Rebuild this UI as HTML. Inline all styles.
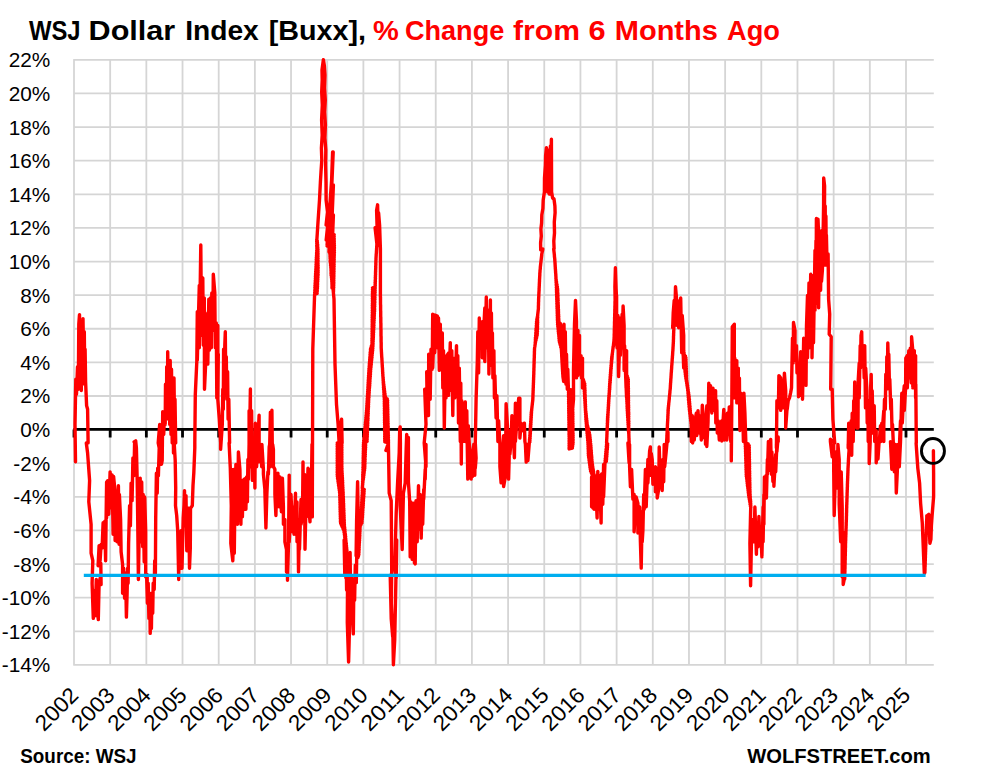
<!DOCTYPE html><html><head><meta charset="utf-8"><style>html,body{margin:0;padding:0;background:#fff}body{width:1006px;height:775px;position:relative;overflow:hidden;font-family:"Liberation Sans",sans-serif}</style></head><body><svg width="1006" height="775" viewBox="0 0 1006 775" style="position:absolute;left:0;top:0">
<rect width="1006" height="775" fill="#fff"/>
<path d="M73.40 59.85H933.80M73.40 93.46H933.80M73.40 127.08H933.80M73.40 160.69H933.80M73.40 194.31H933.80M73.40 227.92H933.80M73.40 261.53H933.80M73.40 295.15H933.80M73.40 328.76H933.80M73.40 362.38H933.80M73.40 395.99H933.80M73.40 429.60H933.80M73.40 463.22H933.80M73.40 496.83H933.80M73.40 530.45H933.80M73.40 564.06H933.80M73.40 597.67H933.80M73.40 631.29H933.80M73.40 664.90H933.80M74.00 59.25V665.50M110.17 59.25V665.50M146.35 59.25V665.50M182.52 59.25V665.50M218.70 59.25V665.50M254.87 59.25V665.50M291.04 59.25V665.50M327.22 59.25V665.50M363.39 59.25V665.50M399.57 59.25V665.50M435.74 59.25V665.50M471.91 59.25V665.50M508.09 59.25V665.50M544.26 59.25V665.50M580.44 59.25V665.50M616.61 59.25V665.50M652.78 59.25V665.50M688.96 59.25V665.50M725.13 59.25V665.50M761.31 59.25V665.50M797.48 59.25V665.50M833.65 59.25V665.50M869.83 59.25V665.50M906.00 59.25V665.50" stroke="#D5D5D5" stroke-width="1.8" fill="none"/>
<path d="M73.40 429.40H933.80M74.00 429.40v8M110.17 429.40v8M146.35 429.40v8M182.52 429.40v8M218.70 429.40v8M254.87 429.40v8M291.04 429.40v8M327.22 429.40v8M363.39 429.40v8M399.57 429.40v8M435.74 429.40v8M471.91 429.40v8M508.09 429.40v8M544.26 429.40v8M580.44 429.40v8M616.61 429.40v8M652.78 429.40v8M688.96 429.40v8M725.13 429.40v8M761.31 429.40v8M797.48 429.40v8M833.65 429.40v8M869.83 429.40v8M906.00 429.40v8" stroke="#000" stroke-width="2.8" fill="none"/>
<path d="M75.5 461.8 L75.0 424.4 L75.8 379.3 L76.5 394.3 L77.5 366.7 L78.3 389.3 L78.8 324.2 L79.5 314.6 L80.3 379.3 L80.8 324.2 L81.3 390.5 L81.8 321.6 L82.5 384.3 L83.0 318.6 L83.8 374.3 L84.3 331.7 L84.8 379.3 L85.1 349.2 L85.6 381.8 L86.6 405.6 L87.6 409.3 L88.1 442.9 L86.3 443.0 L87.6 453.0 L89.6 480.6 L88.8 501.9 L91.1 524.4 L91.1 553.2 L92.8 560.7 L92.1 583.3 L93.3 618.4 L94.3 590.8 L95.1 615.8 L96.3 579.5 L97.1 608.3 L98.3 619.6 L99.1 583.3 L100.1 578.3 L101.1 584.5 L100.8 563.2 L98.1 565.7 L99.1 545.7 L100.1 560.7 L101.1 544.5 L102.1 548.2 L103.1 522.7 L104.1 543.2 L104.8 521.2 L105.6 560.7 L106.1 518.2 L106.6 483.1 L106.6 482.0 L106.6 518.0 L107.6 480.7 L108.8 514.3 L110.1 471.9 L111.4 508.0 L112.1 474.9 L113.1 534.3 L113.6 476.4 L115.1 492.0 L115.1 540.6 L116.6 494.5 L117.1 541.8 L118.4 485.7 L119.1 544.3 L119.4 494.5 L120.6 519.5 L121.1 551.8 L122.6 564.6 L122.6 566.9 L122.6 593.3 L123.6 568.3 L124.6 598.3 L125.6 573.3 L126.4 617.1 L127.1 593.3 L127.6 568.3 L128.1 583.3 L128.6 543.2 L129.6 505.6 L130.4 525.7 L131.1 483.1 L132.1 500.6 L132.9 458.0 L133.9 475.6 L134.6 443.0 L134.1 441.9 L135.7 440.9 L136.4 448.0 L137.2 480.6 L137.7 518.2 L138.4 579.5 L139.2 530.7 L139.7 493.1 L140.2 478.1 L140.2 479.4 L140.2 524.3 L141.4 541.8 L141.7 482.0 L142.7 546.8 L143.2 494.5 L144.2 561.9 L144.7 497.0 L145.7 532.1 L145.7 576.9 L147.2 574.6 L147.2 591.9 L146.7 578.3 L147.4 603.3 L148.2 583.3 L148.9 618.4 L149.7 593.3 L150.2 633.4 L150.9 598.3 L151.4 628.4 L151.9 593.3 L152.7 613.3 L153.2 583.3 L154.2 589.5 L154.7 560.7 L155.4 573.3 L155.7 518.2 L156.4 473.1 L157.2 493.1 L157.7 468.1 L158.4 475.6 L159.2 448.0 L158.2 442.9 L159.7 424.4 L161.0 439.4 L161.5 464.3 L162.2 460.5 L162.7 411.8 L163.7 434.4 L164.5 414.8 L165.2 424.4 L165.5 384.3 L166.5 409.3 L166.7 366.7 L167.5 399.3 L167.7 351.7 L168.5 419.3 L169.2 361.7 L169.7 424.4 L170.2 360.5 L171.0 434.4 L171.5 369.2 L172.2 442.9 L172.7 381.8 L173.5 453.0 L174.0 378.0 L174.7 442.9 L175.0 399.3 L175.7 442.9 L174.2 443.0 L175.2 460.5 L175.7 488.1 L175.5 505.6 L176.7 515.6 L177.7 530.7 L178.7 579.5 L179.5 533.2 L180.2 568.3 L181.0 530.7 L182.0 568.3 L182.7 538.2 L183.2 518.2 L184.0 505.6 L184.5 490.6 L185.3 525.7 L186.0 495.6 L186.8 550.7 L187.5 508.1 L188.3 548.2 L188.8 508.1 L189.5 568.3 L190.3 548.2 L190.5 508.1 L191.5 506.9 L192.3 505.6 L193.0 485.6 L193.8 473.1 L194.8 448.0 L194.8 442.9 L195.3 394.3 L196.8 361.7 L197.3 311.6 L197.3 313.0 L197.3 360.3 L199.3 285.4 L199.3 347.8 L200.8 244.9 L201.5 335.3 L202.8 277.9 L203.3 345.3 L204.3 298.0 L204.5 389.2 L205.8 360.3 L206.3 318.0 L207.8 313.0 L207.8 364.1 L208.8 299.2 L209.3 350.3 L210.3 298.0 L211.3 347.8 L211.8 293.0 L212.8 330.3 L213.3 274.2 L214.8 293.0 L215.3 347.8 L216.3 323.0 L216.8 397.9 L217.8 325.5 L217.8 397.9 L218.3 354.2 L217.8 399.3 L219.3 419.3 L220.6 442.9 L220.6 449.3 L222.3 424.4 L222.8 389.3 L223.3 409.3 L223.6 349.2 L224.3 394.3 L224.8 345.4 L225.3 331.7 L225.8 389.3 L226.3 356.7 L226.8 399.3 L227.6 371.7 L228.1 419.3 L228.8 399.3 L229.6 442.9 L229.1 443.0 L230.3 468.1 L231.3 505.6 L230.8 543.2 L232.8 560.7 L233.8 518.2 L234.3 553.2 L234.6 525.7 L231.8 469.4 L231.8 551.8 L233.7 469.4 L234.8 469.4 L234.8 524.3 L235.9 464.4 L237.1 482.0 L237.4 524.3 L238.4 451.9 L239.9 469.4 L240.9 524.3 L241.6 482.0 L242.4 516.8 L243.2 480.3 L244.1 479.4 L244.1 509.3 L244.9 478.7 L245.9 509.3 L246.6 476.9 L247.4 501.7 L247.9 459.4 L248.4 479.2 L249.1 444.4 L249.1 466.7 L249.1 410.8 L249.1 466.7 L250.4 389.0 L250.4 466.7 L251.6 410.8 L252.4 480.4 L252.9 444.4 L253.6 466.7 L254.4 444.4 L254.9 488.0 L255.4 423.3 L256.6 436.9 L256.6 466.7 L259.1 415.3 L259.1 461.7 L260.4 444.4 L261.7 466.7 L261.9 444.4 L263.4 469.4 L263.4 474.2 L264.9 489.5 L264.9 491.7 L265.9 527.0 L265.9 528.0 L266.9 493.1 L266.9 493.1 L267.9 471.9 L268.4 474.2 L269.2 446.9 L269.7 444.4 L270.4 412.1 L270.4 466.7 L271.9 410.3 L272.4 456.7 L272.7 444.4 L273.4 449.4 L273.4 466.7 L273.4 449.4 L273.4 466.7 L274.9 469.4 L274.9 494.2 L275.9 515.5 L276.9 474.4 L277.4 506.8 L277.9 473.2 L279.4 506.8 L279.9 476.9 L281.4 511.8 L282.4 478.2 L283.4 507.0 L283.4 524.3 L284.9 519.5 L284.9 541.8 L286.5 549.6 L286.5 571.9 L287.5 569.6 L287.5 578.9 L287.5 580.3 L288.5 543.2 L289.2 475.1 L289.2 476.4 L289.2 541.8 L290.5 516.8 L291.0 494.5 L292.5 531.8 L293.0 507.0 L294.0 534.3 L294.5 519.5 L295.5 493.2 L295.5 534.3 L297.0 502.0 L297.0 541.8 L298.0 519.5 L298.5 571.9 L299.5 519.5 L299.5 549.3 L301.0 499.5 L301.0 524.3 L302.5 516.8 L303.0 461.9 L303.5 516.8 L304.5 474.4 L305.0 549.3 L306.5 479.4 L306.5 516.8 L308.0 468.2 L308.5 504.2 L310.0 521.8 L310.5 469.4 L311.3 491.7 L312.0 444.4 L312.0 466.7 L312.0 468.1 L312.3 516.9 L312.8 349.2 L314.6 294.4 L317.1 293.5 L314.7 292.6 L317.2 291.7 L314.8 290.9 L317.3 290.0 L314.9 289.1 L317.4 288.2 L314.9 287.3 L317.5 286.5 L315.0 285.6 L317.6 284.7 L315.1 283.8 L317.6 283.0 L315.2 282.1 L317.7 281.2 L315.3 280.3 L317.8 279.5 L315.4 278.6 L317.9 277.7 L315.4 276.8 L318.0 275.9 L315.5 275.1 L318.1 274.2 L315.6 273.3 L318.1 272.4 L315.7 271.6 L318.1 270.7 L315.8 269.8 L318.1 268.9 L315.9 268.1 L318.1 267.2 L316.0 266.3 L318.1 265.4 L316.1 264.5 L318.0 263.7 L316.2 262.8 L318.0 261.9 L316.3 261.0 L318.0 260.2 L316.3 259.3 L318.0 258.4 L316.4 257.5 L318.0 256.7 L316.5 255.8 L318.0 254.9 L316.6 254.0 L318.0 253.2 L316.7 252.3 L317.9 251.4 L316.8 250.5 L317.9 249.6 L316.9 248.8 L317.8 247.9 L316.8 247.0 L317.7 246.1 L316.8 245.3 L317.6 244.4 L316.8 243.5 L317.4 242.6 L316.7 241.8 L317.3 240.9 L316.7 240.0 L316.9 239.5 L318.0 222.0 L319.5 200.0 L320.4 182.0 L321.0 172.0 L321.8 160.0 L321.4 148.0 L322.2 135.0 L321.6 120.0 L322.3 105.0 L321.7 92.0 L322.2 80.0 L322.0 70.0 L323.4 59.6 L324.4 66.0 L325.0 75.0 L324.6 88.0 L325.3 100.0 L324.7 112.0 L325.4 125.0 L324.9 138.0 L325.8 150.0 L325.6 165.0 L326.0 182.0 L326.1 200.0 L327.5 212.0 L326.1 225.0 L329.5 208.0 L326.2 240.0 L331.0 209.0 L327.0 246.0 L331.6 180.0 L332.6 152.0 L333.2 152.0 L329.0 252.0 L333.4 185.0 L330.2 262.0 L333.4 215.0 L331.0 275.0 L333.6 240.0 L332.0 288.0 L333.9 262.0 L333.5 292.0 L328.4 234.0 L334.2 234.8 L328.5 235.7 L334.2 236.6 L328.6 237.5 L334.2 238.4 L328.8 239.2 L334.3 240.1 L328.9 241.0 L334.3 241.9 L329.0 242.7 L334.3 243.6 L329.1 244.5 L334.4 245.4 L329.2 246.2 L334.4 247.1 L329.3 248.0 L334.4 248.9 L329.5 249.8 L334.4 250.6 L329.6 251.5 L334.4 252.4 L329.7 253.3 L334.3 254.1 L329.9 255.0 L334.3 255.9 L330.0 256.8 L334.2 257.6 L330.1 258.5 L334.2 259.4 L330.2 260.3 L334.2 261.1 L330.4 262.0 L334.1 262.9 L330.5 263.8 L334.1 264.7 L330.6 265.5 L334.1 266.4 L330.8 267.3 L334.0 268.2 L330.9 269.0 L334.0 269.9 L331.0 270.8 L334.0 271.7 L331.1 272.5 L333.9 273.4 L331.3 274.3 L333.9 275.2 L331.4 276.1 L333.9 276.9 L331.5 277.8 L333.8 278.7 L331.7 279.6 L333.8 280.4 L331.8 281.3 L333.8 282.2 L331.9 283.1 L333.8 283.9 L332.0 284.8 L333.7 285.7 L332.2 286.6 L333.7 287.5 L333.0 288.3 L334.0 299.1 L335.0 364.2 L336.5 404.3 L338.1 424.4 L339.1 442.9 L340.1 450.5 L340.8 424.4 L341.6 419.3 L342.1 442.9 L337.2 443.0 L341.9 443.9 L337.2 444.8 L341.9 445.6 L337.2 446.5 L341.9 447.4 L337.2 448.3 L341.9 449.1 L337.2 450.0 L341.9 450.9 L337.2 451.8 L341.9 452.6 L337.2 453.5 L341.9 454.4 L337.2 455.3 L341.9 456.2 L337.2 457.0 L341.9 457.9 L337.2 458.8 L341.9 459.7 L337.2 460.5 L341.9 461.4 L337.2 462.3 L341.9 463.2 L337.2 464.0 L341.9 464.9 L337.2 465.8 L341.9 466.7 L337.2 467.5 L342.0 468.4 L337.2 469.3 L342.0 470.2 L337.2 471.1 L342.1 471.9 L337.2 472.8 L342.2 473.7 L337.2 474.6 L342.3 475.4 L337.3 476.3 L342.4 477.2 L337.5 478.1 L342.5 478.9 L337.8 479.8 L342.6 480.7 L338.0 481.6 L342.7 482.5 L338.3 483.3 L342.7 484.2 L338.5 485.1 L342.8 486.0 L338.8 486.8 L342.9 487.7 L339.0 488.6 L343.0 489.5 L339.3 490.3 L343.1 491.2 L339.5 492.1 L343.2 493.0 L339.7 493.9 L343.2 494.7 L339.7 495.6 L343.3 496.5 L339.8 497.4 L343.4 498.2 L339.8 499.1 L343.5 500.0 L339.9 500.9 L343.5 501.7 L339.9 502.6 L343.6 503.5 L340.0 504.4 L343.7 505.2 L340.0 506.1 L343.7 507.0 L340.0 507.9 L343.8 508.8 L340.1 509.6 L343.9 510.5 L340.1 511.4 L343.9 512.3 L340.2 513.1 L344.0 514.0 L340.2 514.9 L344.1 515.8 L340.3 516.6 L344.1 517.5 L340.3 518.4 L344.2 519.3 L340.4 520.2 L344.3 521.0 L340.4 521.9 L344.3 522.8 L340.7 523.7 L344.4 524.5 L341.5 525.4 L344.5 526.3 L342.3 527.2 L344.7 528.0 L343.1 528.9 L344.9 529.8 L343.9 530.7 L345.0 531.6 L344.1 532.4 L345.2 533.3 L344.4 534.2 L345.4 535.1 L344.6 535.9 L345.6 536.8 L344.8 537.7 L345.7 538.6 L345.0 539.4 L345.9 540.3 L345.2 541.2 L346.1 542.1 L345.4 542.9 L346.3 543.8 L345.5 544.7 L346.4 545.6 L345.5 546.5 L346.6 547.3 L345.5 548.2 L346.8 549.1 L345.5 550.0 L346.9 550.8 L345.6 551.7 L347.0 552.6 L345.6 553.5 L347.0 554.3 L345.6 555.2 L347.0 556.1 L345.6 557.0 L347.0 557.9 L345.7 558.7 L347.0 559.6 L345.7 560.5 L347.0 561.4 L345.7 562.2 L347.1 563.1 L345.7 564.0 L347.1 564.9 L345.8 565.7 L347.1 566.6 L345.8 567.5 L347.1 568.4 L345.8 569.3 L347.1 570.1 L345.8 571.0 L347.1 571.9 L345.9 572.8 L347.2 573.6 L345.9 574.5 L347.2 575.4 L345.9 576.3 L347.2 577.1 L345.9 578.0 L344.1 540.0 L344.8 575.1 L346.1 555.0 L346.6 590.1 L347.6 572.6 L347.3 622.7 L348.6 662.0 L349.3 635.2 L350.1 552.5 L350.8 620.2 L351.6 577.6 L352.3 615.2 L353.3 633.9 L353.8 590.1 L354.6 600.1 L355.3 565.1 L356.3 582.6 L356.8 550.0 L358.1 557.5 L358.6 530.0 L356.1 555.7 L356.6 520.7 L357.6 481.8 L358.3 520.7 L358.6 555.7 L357.3 555.2 L358.8 554.3 L357.4 553.5 L358.9 552.6 L357.5 551.7 L359.0 550.8 L357.6 550.0 L359.1 549.1 L357.8 548.2 L359.1 547.3 L357.9 546.5 L359.2 545.6 L358.0 544.7 L359.3 543.8 L358.1 542.9 L359.4 542.1 L358.3 541.2 L359.5 540.3 L358.4 539.4 L359.6 538.6 L358.5 537.7 L359.7 536.8 L358.6 535.9 L359.8 535.1 L358.8 534.2 L359.8 533.3 L358.9 532.4 L359.9 531.6 L359.0 530.7 L360.0 529.8 L359.1 528.9 L360.1 528.0 L359.3 527.2 L360.2 526.3 L359.4 525.4 L361.0 524.5 L359.5 523.7 L362.0 522.8 L359.6 521.9 L362.1 521.0 L360.0 520.2 L362.2 519.3 L360.8 518.4 L362.4 517.5 L361.0 516.6 L362.5 515.8 L361.1 514.9 L362.6 514.0 L361.2 513.1 L362.7 512.3 L361.3 511.4 L362.8 510.5 L361.4 509.6 L362.9 508.8 L361.5 507.9 L363.1 507.0 L361.6 506.1 L363.2 505.2 L361.7 504.4 L363.3 503.5 L361.7 502.6 L363.4 501.7 L361.8 500.9 L363.5 500.0 L361.9 499.1 L363.6 498.2 L362.0 497.4 L363.8 496.5 L362.1 495.6 L363.9 494.7 L362.2 493.9 L364.0 493.0 L362.3 492.1 L364.1 491.2 L362.3 490.3 L364.2 489.5 L362.4 488.6 L362.3 487.7 L362.4 486.8 L362.5 486.0 L362.5 485.1 L362.7 484.2 L362.6 483.3 L362.9 482.5 L362.6 481.6 L363.1 480.7 L362.7 479.8 L363.4 478.9 L362.7 478.1 L363.6 477.2 L362.8 476.3 L363.8 475.4 L362.8 474.6 L364.0 473.7 L362.9 472.8 L364.2 471.9 L363.0 471.1 L364.5 470.2 L363.0 469.3 L364.7 468.4 L363.0 467.5 L364.8 466.7 L363.1 465.8 L364.9 464.9 L363.1 464.0 L364.9 463.2 L363.1 462.3 L365.0 461.4 L363.2 460.5 L365.1 459.7 L363.2 458.8 L365.1 457.9 L363.2 457.0 L365.2 456.2 L363.3 455.3 L365.3 454.4 L363.3 453.5 L365.3 452.6 L363.3 451.8 L365.4 450.9 L363.4 450.0 L365.5 449.1 L363.4 448.3 L365.6 447.4 L363.4 446.5 L365.6 445.6 L363.4 444.8 L365.7 443.9 L363.5 443.0 L363.6 442.1 L367.1 441.3 L363.7 440.4 L367.1 439.5 L363.9 438.6 L367.2 437.8 L364.1 436.9 L367.3 436.0 L364.2 435.1 L367.3 434.2 L364.4 433.4 L367.4 432.5 L364.6 431.6 L367.5 430.7 L364.7 429.9 L367.5 429.0 L364.9 428.1 L367.6 427.2 L365.1 426.4 L367.7 425.5 L365.2 424.6 L367.8 423.7 L365.4 422.8 L367.8 422.0 L365.6 421.1 L367.9 420.2 L365.8 419.3 L368.0 418.5 L365.9 417.6 L368.0 416.7 L366.1 415.8 L368.1 415.0 L366.3 414.1 L368.2 413.2 L366.4 412.3 L368.2 411.4 L366.6 410.6 L368.3 409.7 L366.7 408.8 L368.4 407.9 L366.8 407.1 L368.5 406.2 L366.9 405.3 L368.5 404.4 L367.0 403.6 L368.6 402.7 L367.1 401.8 L368.7 400.9 L367.2 400.1 L368.7 399.2 L367.3 398.3 L368.9 397.4 L367.4 396.5 L369.0 395.7 L367.5 394.8 L369.1 393.9 L367.6 393.0 L369.2 392.2 L367.7 391.3 L369.3 390.4 L367.8 389.5 L369.4 388.7 L367.9 387.8 L369.6 386.9 L368.0 386.0 L369.7 385.1 L368.1 384.3 L369.8 383.4 L368.2 382.5 L369.9 381.6 L368.3 380.8 L370.0 379.9 L368.4 379.0 L370.1 378.1 L368.5 377.3 L370.3 376.4 L368.6 375.5 L370.4 374.6 L368.7 373.7 L370.5 372.9 L368.8 372.0 L370.6 371.1 L368.9 370.2 L370.7 369.4 L369.0 368.5 L370.9 367.6 L369.2 366.7 L371.1 365.9 L369.3 365.0 L371.3 364.1 L369.4 363.2 L371.4 362.4 L369.6 361.5 L371.6 360.6 L369.7 359.7 L371.8 358.8 L369.8 358.0 L372.0 357.1 L370.0 356.2 L372.1 355.3 L370.1 354.5 L372.3 353.6 L370.2 352.7 L372.5 351.8 L370.4 351.0 L372.7 350.1 L370.5 349.2 L372.8 348.3 L371.0 347.4 L372.9 346.6 L371.5 345.7 L373.0 344.8 L372.0 343.9 L373.0 343.1 L372.0 342.2 L373.1 341.3 L372.0 340.4 L373.2 339.6 L372.0 338.7 L373.3 337.8 L372.1 336.9 L373.4 336.0 L372.1 335.2 L373.4 334.3 L372.1 333.4 L373.5 332.5 L372.1 331.7 L373.6 330.8 L372.1 329.9 L373.7 329.0 L372.1 328.2 L373.8 327.3 L372.2 326.4 L373.9 325.5 L372.2 324.7 L373.9 323.8 L372.2 322.9 L374.0 322.0 L372.2 321.1 L374.1 320.3 L372.2 319.4 L374.2 318.5 L372.2 317.6 L374.3 316.8 L372.2 315.9 L374.3 315.0 L372.3 314.1 L374.4 313.3 L372.3 312.4 L374.5 311.5 L372.3 310.6 L374.6 309.7 L372.3 308.9 L374.6 308.0 L372.3 307.1 L374.7 306.2 L372.3 305.4 L374.7 304.5 L372.4 303.6 L374.8 302.7 L372.4 301.9 L374.8 301.0 L372.4 300.1 L374.9 299.2 L372.4 298.3 L374.9 297.5 L372.4 296.6 L375.0 295.7 L372.4 294.8 L375.0 294.0 L372.4 293.1 L375.1 292.2 L372.5 291.3 L375.1 290.5 L372.5 289.6 L375.2 288.7 L372.5 287.8 L375.2 287.0 L375.0 286.1 L375.3 285.2 L375.1 284.3 L375.3 283.4 L375.1 282.6 L375.4 281.7 L375.2 280.8 L375.4 279.9 L375.3 279.1 L375.5 278.2 L375.3 277.3 L375.5 276.4 L375.4 275.6 L375.6 274.7 L375.5 273.8 L375.6 272.9 L375.5 272.0 L375.7 271.2 L375.6 270.3 L375.7 269.4 L375.7 268.5 L375.8 267.7 L375.7 266.8 L375.8 265.9 L375.8 265.0 L375.9 264.2 L375.8 263.3 L375.9 262.4 L375.9 261.5 L375.9 260.6 L376.0 259.8 L376.0 258.9 L376.0 258.0 L376.1 257.1 L376.1 256.3 L376.2 255.4 L376.2 254.5 L376.3 253.6 L376.4 252.8 L376.4 251.9 L376.5 251.0 L376.5 250.1 L376.6 249.3 L376.6 248.4 L376.7 247.5 L376.7 246.6 L376.8 245.7 L376.8 244.9 L376.9 244.0 L375.1 227.8 L377.6 245.4 L376.6 210.3 L377.6 204.8 L378.6 245.4 L378.6 212.8 L379.6 225.3 L380.4 248.9 L380.4 249.0 L380.4 249.9 L380.4 250.8 L380.4 251.6 L380.4 252.5 L380.4 253.4 L380.4 254.3 L380.4 255.1 L380.4 256.0 L380.4 256.9 L380.4 257.8 L380.4 258.6 L380.4 259.5 L380.4 260.4 L380.4 261.3 L380.4 262.2 L380.4 263.0 L380.4 263.9 L380.4 264.8 L380.4 265.7 L380.4 266.5 L380.4 267.4 L380.4 268.3 L380.4 269.2 L380.4 270.0 L380.4 270.9 L380.4 271.8 L380.4 272.7 L380.4 273.5 L380.4 274.4 L380.4 275.3 L380.4 276.2 L380.4 277.1 L380.4 277.9 L380.4 278.8 L380.4 279.7 L380.4 280.6 L380.4 281.4 L380.4 282.3 L380.4 283.2 L380.4 284.1 L380.4 284.9 L380.4 285.8 L380.4 286.7 L380.4 287.6 L380.4 288.5 L380.4 289.3 L380.4 290.2 L380.4 291.1 L380.4 292.0 L380.4 292.8 L380.4 293.7 L380.4 294.6 L380.4 295.5 L380.4 296.3 L380.5 297.2 L380.5 298.1 L380.5 299.0 L380.5 299.9 L380.5 300.7 L380.5 301.6 L380.5 302.5 L380.5 303.4 L380.5 304.2 L380.6 305.1 L380.6 306.0 L380.6 306.9 L380.6 307.7 L380.6 308.6 L380.6 309.5 L380.6 310.4 L380.7 311.2 L380.7 312.1 L380.7 313.0 L380.7 313.9 L380.7 314.8 L380.7 315.6 L380.7 316.5 L380.8 317.4 L380.8 318.3 L380.8 319.1 L380.8 320.0 L380.8 320.9 L380.8 321.8 L380.8 322.6 L380.9 323.5 L380.9 324.4 L380.9 325.3 L380.9 326.2 L380.9 327.0 L380.9 327.9 L380.9 328.8 L381.0 329.7 L381.0 330.5 L381.0 331.4 L381.0 332.3 L381.0 333.2 L381.0 334.0 L381.0 334.9 L381.0 335.8 L381.1 336.7 L381.1 337.6 L381.1 338.4 L381.1 339.3 L381.1 340.2 L381.1 341.1 L381.1 341.9 L381.2 342.8 L381.2 343.7 L381.2 344.6 L381.2 345.4 L381.2 346.3 L381.2 347.2 L381.2 348.1 L381.3 348.9 L381.3 349.8 L381.4 350.7 L381.4 351.6 L381.5 352.5 L381.5 353.3 L381.6 354.2 L381.6 355.1 L381.7 356.0 L381.7 356.8 L381.8 357.7 L381.9 358.6 L381.9 359.5 L382.0 360.3 L382.0 361.2 L382.1 362.1 L382.1 363.0 L382.2 363.9 L382.2 364.7 L382.3 365.6 L382.3 366.5 L382.4 367.4 L382.5 368.2 L382.5 369.1 L382.6 370.0 L382.6 370.9 L382.6 371.7 L382.8 372.6 L382.7 373.5 L382.9 374.4 L382.8 375.3 L383.0 376.1 L382.9 377.0 L383.2 377.9 L383.0 378.8 L383.3 379.6 L383.1 380.5 L383.5 381.4 L383.2 382.3 L383.7 383.1 L383.3 384.0 L383.9 384.9 L383.4 385.8 L384.1 386.7 L383.5 387.5 L384.3 388.4 L383.6 389.3 L384.5 390.2 L383.8 391.0 L384.7 391.9 L383.9 392.8 L384.9 393.7 L384.0 394.5 L385.1 395.4 L384.1 396.3 L385.6 397.2 L384.2 398.0 L387.2 398.9 L384.3 399.8 L387.6 400.7 L384.3 401.6 L387.6 402.4 L384.3 403.3 L387.6 404.2 L384.3 405.1 L387.7 405.9 L384.4 406.8 L387.7 407.7 L384.4 408.6 L387.8 409.4 L384.4 410.3 L387.8 411.2 L384.4 412.1 L387.8 413.0 L384.4 413.8 L387.9 414.7 L384.5 415.6 L387.9 416.5 L384.5 417.3 L388.0 418.2 L384.5 419.1 L388.0 420.0 L384.5 420.8 L388.0 421.7 L384.5 422.6 L388.1 423.5 L384.6 424.4 L388.1 425.2 L384.6 426.1 L388.2 427.0 L384.6 427.9 L388.2 428.7 L384.6 429.6 L388.2 430.5 L384.6 431.4 L388.3 432.2 L384.7 433.1 L388.3 434.0 L384.7 434.9 L388.4 435.7 L384.7 436.6 L388.4 437.5 L384.7 438.4 L388.4 439.3 L384.7 440.1 L388.5 441.0 L384.8 441.9 L388.5 442.8 L385.9 450.5 L388.4 443.0 L389.2 493.1 L391.2 500.6 L391.7 568.3 L391.2 618.4 L392.7 636.9 L390.2 575.1 L391.2 617.7 L392.7 625.2 L393.4 664.7 L394.7 640.2 L395.2 615.2 L395.9 580.1 L396.7 540.0 L396.2 578.3 L394.7 568.3 L396.2 513.1 L397.7 480.6 L399.2 453.0 L399.7 429.4 L400.2 426.9 L400.4 443.0 L400.2 505.6 L402.2 549.5 L403.4 493.1 L405.2 483.1 L406.2 448.0 L406.7 434.4 L407.7 442.9 L407.2 463.0 L408.4 437.4 L408.4 483.1 L408.4 481.8 L408.4 481.8 L409.7 501.7 L410.2 556.9 L410.9 502.0 L412.2 559.4 L413.5 503.2 L414.4 562.7 L415.2 563.9 L416.0 500.7 L417.2 541.8 L418.5 485.7 L419.2 529.3 L420.2 494.5 L421.2 538.1 L422.2 497.0 L422.7 524.3 L423.7 489.5 L423.7 499.2 L425.2 469.4 L425.2 479.2 L426.0 444.4 L426.0 466.7 L424.2 442.9 L426.0 424.4 L424.7 389.3 L427.2 409.3 L426.7 371.7 L428.5 415.6 L428.7 354.2 L430.2 399.3 L431.0 349.2 L432.2 369.2 L432.7 314.1 L432.7 315.5 L432.7 367.9 L434.7 315.0 L434.7 352.8 L436.1 315.5 L437.3 316.0 L437.3 347.8 L438.5 318.0 L439.3 370.4 L440.3 324.3 L441.0 367.9 L442.3 333.0 L442.8 387.9 L443.5 350.6 L444.3 428.0 L445.3 368.1 L446.0 397.9 L446.8 355.6 L448.5 353.1 L448.5 395.4 L450.3 342.6 L450.3 390.4 L451.8 350.6 L452.8 415.5 L453.5 358.1 L454.8 397.9 L456.5 345.6 L456.8 395.4 L457.8 355.6 L458.5 423.0 L459.3 368.1 L460.3 441.5 L460.8 383.1 L461.3 464.1 L461.8 400.7 L462.8 441.5 L463.3 410.7 L465.3 401.9 L465.3 441.5 L466.8 410.7 L467.3 448.0 L467.8 479.1 L468.3 425.7 L469.3 444.3 L470.8 454.3 L471.1 479.1 L472.3 450.8 L472.3 476.6 L473.8 444.3 L474.8 475.3 L475.3 444.3 L475.3 468.1 L476.1 458.0 L475.3 442.9 L476.1 399.3 L477.3 361.7 L477.8 331.7 L477.8 333.0 L477.8 372.9 L478.6 372.9 L479.3 318.0 L480.3 342.8 L481.1 323.0 L482.3 321.8 L482.3 357.8 L484.8 308.0 L484.8 361.6 L486.3 297.0 L486.8 347.8 L488.4 310.5 L488.9 374.1 L490.4 300.0 L490.4 360.3 L491.4 313.0 L491.9 365.4 L492.4 333.0 L492.9 377.9 L493.9 350.6 L494.4 397.9 L494.9 375.6 L496.1 418.0 L496.9 395.7 L497.9 441.5 L498.6 420.7 L499.9 444.3 L499.9 448.0 L499.9 444.3 L499.9 466.6 L501.1 482.8 L503.6 435.7 L503.6 486.6 L505.4 476.6 L506.1 403.7 L507.4 425.7 L507.4 456.5 L508.6 479.1 L509.9 430.7 L509.9 454.0 L511.1 441.5 L511.9 415.7 L513.7 425.7 L513.7 441.5 L514.4 457.8 L515.4 403.2 L515.4 441.5 L516.9 420.7 L518.7 398.2 L519.9 398.2 L519.9 438.0 L521.2 423.2 L522.9 430.7 L524.4 423.2 L524.9 441.5 L525.4 444.3 L526.2 462.1 L526.9 450.8 L527.9 444.3 L527.9 460.5 L529.3 442.8 L529.9 441.9 L529.4 441.0 L530.0 440.1 L529.5 439.3 L530.1 438.4 L529.7 437.5 L530.2 436.6 L529.8 435.7 L530.3 434.9 L529.9 434.0 L530.4 433.1 L530.0 432.2 L530.5 431.4 L530.1 430.5 L530.6 429.6 L530.2 428.7 L530.7 427.9 L530.3 427.0 L530.8 426.1 L530.4 425.2 L530.9 424.4 L530.6 423.5 L531.0 422.6 L530.7 421.7 L531.1 420.8 L530.8 420.0 L531.2 419.1 L530.9 418.2 L531.3 417.3 L531.0 416.5 L531.4 415.6 L531.1 414.7 L531.5 413.8 L531.2 413.0 L531.6 412.1 L531.4 411.2 L531.7 410.3 L531.7 409.4 L531.8 408.6 L531.9 407.7 L532.0 406.8 L532.1 405.9 L532.2 405.1 L532.3 404.2 L532.4 403.3 L532.5 402.4 L532.6 401.6 L532.7 400.7 L532.8 399.8 L532.8 398.9 L532.9 398.0 L532.9 397.2 L532.9 396.3 L533.0 395.4 L533.0 394.5 L533.0 393.7 L533.1 392.8 L533.1 391.9 L533.1 391.0 L533.2 390.2 L533.2 389.3 L533.2 388.4 L533.3 387.5 L533.3 386.7 L533.3 385.8 L533.4 384.9 L533.4 384.0 L533.4 383.1 L533.5 382.3 L533.5 381.4 L533.5 380.5 L533.6 379.6 L533.6 378.8 L533.6 377.9 L533.7 377.0 L533.7 376.1 L533.7 375.3 L533.8 374.4 L533.8 373.5 L533.8 372.6 L533.8 371.7 L533.9 370.9 L533.9 370.0 L533.9 369.1 L533.9 368.2 L534.0 367.4 L534.0 366.5 L534.0 365.6 L534.0 364.7 L534.1 363.9 L534.1 363.0 L534.1 362.1 L534.1 361.2 L534.2 360.3 L534.2 359.5 L534.2 358.6 L534.3 357.7 L534.3 356.8 L534.3 356.0 L534.3 355.1 L534.4 354.2 L534.4 353.3 L534.4 352.5 L534.4 351.6 L534.5 350.7 L534.5 349.8 L534.5 348.9 L534.6 348.1 L534.7 347.2 L534.9 346.3 L535.0 345.4 L535.1 344.6 L535.3 343.7 L535.2 342.8 L535.6 341.9 L535.3 341.1 L536.0 340.2 L535.4 339.3 L536.4 338.4 L535.5 337.6 L536.8 336.7 L535.7 335.8 L537.2 334.9 L535.8 334.0 L537.3 333.2 L535.9 332.3 L537.4 331.4 L536.0 330.5 L537.4 329.7 L536.1 328.8 L537.5 327.9 L536.3 327.0 L537.5 326.2 L536.4 325.3 L537.5 324.4 L536.5 323.5 L537.6 322.6 L536.6 321.8 L537.6 320.9 L536.8 320.0 L537.6 319.1 L537.0 318.3 L537.7 317.4 L537.4 316.5 L537.7 315.6 L537.7 314.8 L537.8 313.9 L537.9 313.0 L538.0 312.1 L538.1 311.2 L538.2 310.4 L538.3 309.5 L538.4 308.6 L538.4 307.7 L538.4 306.9 L538.4 306.0 L538.5 305.1 L538.5 304.2 L538.5 303.4 L538.5 302.5 L538.6 301.6 L538.6 300.7 L538.6 299.9 L538.6 299.0 L538.7 298.1 L538.7 297.2 L538.8 296.3 L538.8 295.5 L538.8 294.6 L538.9 293.7 L538.9 292.8 L539.0 292.0 L539.0 291.1 L539.1 290.2 L539.1 289.3 L539.1 288.5 L539.2 287.6 L539.2 286.7 L539.3 285.8 L539.3 284.9 L539.3 284.1 L539.4 283.2 L539.4 282.3 L539.5 281.4 L539.5 280.6 L539.5 279.7 L539.6 278.8 L539.6 277.9 L539.7 277.1 L539.7 276.2 L539.8 275.3 L539.8 274.4 L539.8 273.5 L539.9 272.7 L540.0 271.8 L540.0 270.9 L540.1 270.0 L540.2 269.2 L540.3 268.3 L540.3 267.4 L540.4 266.5 L540.5 265.7 L540.6 264.8 L540.7 263.9 L540.8 263.0 L540.9 262.2 L541.0 261.3 L541.1 260.4 L541.2 259.5 L541.3 258.6 L541.4 257.8 L541.5 256.9 L541.6 256.0 L541.7 255.1 L541.7 254.3 L541.9 253.4 L542.1 252.5 L542.3 251.6 L542.5 250.8 L542.7 249.9 L542.8 249.0 L540.7 249.8 L540.6 243.0 L541.3 236.0 L540.9 229.0 L541.6 223.0 L541.8 215.0 L542.9 208.5 L543.2 200.0 L544.4 192.0 L544.5 178.0 L545.4 165.0 L545.6 156.0 L546.4 147.6 L546.0 190.0 L547.5 152.0 L547.6 192.0 L548.9 150.0 L549.2 194.0 L550.4 146.0 L550.4 192.0 L551.4 139.3 L551.6 192.0 L552.6 198.0 L554.0 199.0 L554.9 206.0 L555.1 212.6 L554.3 222.0 L554.5 233.0 L553.8 241.0 L554.1 248.8 L553.7 249.0 L553.8 249.9 L553.9 250.8 L554.0 251.6 L554.1 252.5 L554.2 253.4 L554.3 254.3 L554.4 255.1 L554.4 256.0 L554.5 256.9 L554.6 257.8 L554.7 258.6 L554.8 259.5 L554.8 260.4 L554.9 261.3 L555.0 262.2 L555.0 263.0 L555.1 263.9 L555.1 264.8 L555.2 265.7 L555.2 266.5 L555.3 267.4 L555.3 268.3 L555.4 269.2 L555.5 270.0 L555.5 270.9 L555.6 271.8 L555.6 272.7 L555.7 273.5 L555.8 274.4 L555.8 275.3 L555.9 276.2 L555.9 277.1 L556.0 277.9 L555.9 278.8 L556.2 279.7 L556.0 280.6 L556.5 281.4 L556.1 282.3 L556.7 283.2 L556.2 284.1 L557.0 284.9 L556.3 285.8 L557.3 286.7 L556.4 287.6 L557.5 288.5 L556.5 289.3 L557.7 290.2 L556.5 291.1 L557.7 292.0 L556.6 292.8 L557.8 293.7 L556.6 294.6 L557.9 295.5 L556.7 296.3 L557.9 297.2 L556.7 298.1 L558.0 299.0 L556.8 299.9 L558.1 300.7 L556.9 301.6 L558.1 302.5 L556.9 303.4 L558.2 304.2 L557.0 305.1 L558.3 306.0 L557.0 306.9 L558.3 307.7 L557.1 308.6 L558.4 309.5 L557.2 310.4 L558.5 311.2 L557.2 312.1 L558.5 313.0 L557.3 313.9 L558.6 314.8 L557.3 315.6 L558.7 316.5 L557.4 317.4 L558.7 318.3 L557.4 319.1 L558.8 320.0 L557.5 320.9 L559.0 321.8 L557.6 322.6 L560.4 323.5 L557.6 324.4 L560.9 325.3 L557.8 326.2 L560.9 327.0 L558.0 327.9 L561.0 328.8 L558.2 329.7 L561.0 330.5 L558.3 331.4 L561.0 332.3 L558.5 333.2 L561.1 334.0 L558.7 334.9 L561.1 335.8 L558.9 336.7 L561.1 337.6 L559.0 338.4 L561.2 339.3 L559.2 340.2 L561.2 341.1 L559.4 341.9 L561.2 342.8 L559.9 343.7 L561.3 344.6 L560.4 345.4 L561.3 346.3 L560.8 347.2 L561.4 348.1 L561.3 348.9 L561.4 349.8 L561.5 350.7 L561.5 351.6 L561.6 352.5 L561.6 353.3 L561.7 354.2 L561.7 355.1 L561.7 356.0 L561.8 356.8 L561.8 357.7 L561.9 358.6 L561.9 359.5 L562.0 360.3 L562.0 361.2 L562.1 362.1 L562.1 363.0 L562.2 363.9 L562.2 364.7 L562.3 365.6 L562.3 366.5 L562.4 367.4 L562.4 368.2 L562.5 369.1 L562.5 370.0 L562.6 370.9 L562.6 371.7 L562.7 372.6 L562.7 373.5 L562.8 374.4 L562.9 375.3 L562.9 376.1 L563.0 377.0 L563.1 377.9 L563.3 378.8 L563.4 379.6 L563.5 380.5 L563.6 381.4 L564.0 324.2 L564.5 381.8 L565.3 331.7 L566.0 384.3 L566.5 354.2 L567.3 389.3 L567.8 369.2 L568.4 389.3 L572.7 390.2 L568.5 391.0 L572.7 391.9 L568.5 392.8 L572.7 393.7 L568.5 394.5 L572.7 395.4 L568.5 396.3 L572.7 397.2 L568.6 398.0 L572.7 398.9 L568.6 399.8 L572.7 400.7 L568.6 401.6 L572.8 402.4 L568.6 403.3 L572.8 404.2 L568.7 405.1 L572.8 405.9 L568.7 406.8 L572.8 407.7 L568.7 408.6 L572.8 409.4 L568.7 410.3 L572.8 411.2 L568.7 412.1 L572.9 413.0 L568.8 413.8 L572.9 414.7 L568.8 415.6 L572.9 416.5 L568.8 417.3 L572.9 418.2 L568.8 419.1 L572.9 420.0 L568.9 420.8 L572.9 421.7 L568.9 422.6 L573.0 423.5 L568.9 424.4 L573.0 425.2 L568.9 426.1 L573.0 427.0 L568.9 427.9 L573.0 428.7 L569.0 429.6 L573.0 430.5 L569.0 431.4 L573.0 432.2 L569.0 433.1 L573.1 434.0 L569.0 434.9 L573.1 435.7 L569.1 436.6 L573.1 437.5 L569.1 438.4 L573.1 439.3 L569.1 440.1 L573.1 441.0 L569.1 441.9 L573.1 442.8 L569.1 443.6 L572.9 444.5 L569.1 445.4 L572.6 446.3 L569.1 447.1 L572.4 448.0 L569.1 448.9 L573.5 399.3 L573.5 369.2 L574.5 324.2 L575.5 300.4 L576.5 321.6 L576.5 323.0 L576.5 377.9 L578.0 330.5 L578.0 375.4 L579.5 335.5 L579.5 372.9 L581.0 355.6 L581.5 377.9 L582.5 358.1 L582.5 387.9 L583.2 379.3 L583.5 380.1 L583.7 381.0 L584.1 381.9 L583.9 382.8 L584.7 383.6 L584.0 384.5 L584.8 385.4 L584.0 386.3 L584.8 387.2 L584.1 388.0 L584.9 388.9 L584.2 389.8 L585.0 390.7 L584.3 391.5 L585.0 392.4 L584.4 393.3 L585.1 394.2 L584.5 395.0 L585.2 395.9 L584.6 396.8 L585.2 397.7 L584.7 398.5 L585.3 399.4 L584.8 400.3 L585.4 401.2 L584.9 402.1 L585.4 402.9 L585.0 403.8 L585.5 404.7 L585.1 405.6 L585.6 406.4 L585.2 407.3 L585.6 408.2 L585.3 409.1 L585.7 409.9 L585.4 410.8 L585.9 411.7 L585.5 412.6 L586.1 413.5 L585.6 414.3 L586.3 415.2 L585.7 416.1 L586.4 417.0 L585.8 417.8 L586.6 418.7 L585.9 419.6 L586.8 420.5 L586.1 421.3 L587.0 422.2 L586.2 423.1 L587.1 424.0 L586.4 424.9 L587.5 425.7 L586.5 426.6 L588.0 427.5 L586.7 428.4 L588.4 429.2 L586.8 430.1 L588.8 431.0 L587.0 431.9 L589.3 432.7 L587.1 433.6 L589.7 434.5 L587.3 435.4 L589.9 436.2 L587.4 437.1 L590.1 438.0 L587.6 438.9 L590.3 439.8 L587.7 440.6 L590.5 441.5 L587.9 442.4 L587.9 443.0 L590.7 443.9 L588.0 444.8 L590.9 445.6 L588.1 446.5 L591.0 447.4 L588.1 448.3 L591.1 449.1 L588.2 450.0 L591.3 450.9 L588.3 451.8 L591.4 452.6 L588.3 453.5 L591.5 454.4 L588.4 455.3 L591.7 456.2 L588.6 457.0 L591.8 457.9 L588.9 458.8 L591.9 459.7 L589.1 460.5 L592.1 461.4 L589.3 462.3 L592.2 463.2 L589.6 464.0 L592.5 464.9 L589.8 465.8 L592.7 466.7 L590.0 467.5 L593.0 468.4 L590.3 469.3 L593.3 470.2 L590.6 471.1 L593.6 471.9 L591.3 472.8 L593.8 473.7 L592.0 474.6 L594.0 475.4 L592.4 476.3 L594.0 477.2 L592.5 478.1 L594.0 478.9 L592.5 479.8 L594.1 480.7 L592.5 481.6 L594.1 482.5 L592.6 483.3 L594.2 484.2 L592.6 485.1 L594.2 486.0 L592.6 486.8 L594.2 487.7 L592.6 488.6 L594.3 489.5 L592.7 490.3 L594.3 491.2 L592.7 492.1 L594.3 493.0 L592.7 493.9 L594.4 494.7 L592.7 495.6 L594.4 496.5 L592.8 497.4 L594.5 498.2 L592.8 499.1 L594.5 500.0 L592.8 500.9 L594.5 501.7 L592.8 502.6 L594.6 503.5 L592.9 504.4 L594.6 505.2 L592.9 506.1 L594.7 507.0 L592.9 507.9 L591.6 476.9 L591.6 506.8 L593.1 476.4 L594.1 509.3 L595.3 475.7 L597.1 518.0 L597.8 471.4 L599.1 509.3 L599.6 475.7 L601.1 523.0 L601.6 473.9 L602.8 504.2 L603.6 464.4 L603.6 496.7 L605.0 462.3 L606.3 461.4 L605.2 460.5 L606.5 459.7 L605.3 458.8 L606.6 457.9 L605.5 457.0 L606.8 456.2 L605.6 455.3 L606.9 454.4 L605.8 453.5 L607.0 452.6 L605.9 451.8 L607.1 450.9 L606.1 450.0 L607.3 449.1 L606.3 448.3 L607.4 447.4 L606.4 446.5 L607.5 445.6 L606.6 444.8 L607.6 443.9 L606.7 443.0 L606.6 442.9 L606.6 442.0 L606.7 441.1 L606.7 440.3 L606.7 439.4 L606.8 438.5 L606.8 437.6 L606.9 436.8 L606.9 435.9 L606.9 435.0 L607.0 434.1 L607.0 433.2 L607.0 432.4 L607.1 431.5 L607.1 430.6 L607.2 429.7 L607.2 428.9 L607.3 428.0 L607.2 427.1 L607.4 426.2 L607.3 425.4 L607.5 424.5 L607.3 423.6 L607.6 422.7 L607.4 421.8 L607.7 421.0 L607.4 420.1 L607.8 419.2 L607.5 418.3 L607.9 417.5 L607.6 416.6 L608.0 415.7 L607.7 414.8 L608.1 414.0 L607.9 413.1 L608.2 412.2 L608.0 411.3 L608.3 410.4 L608.1 409.6 L608.4 408.7 L608.2 407.8 L608.5 406.9 L608.3 406.1 L608.6 405.2 L608.4 404.3 L608.7 403.4 L608.5 402.6 L608.8 401.7 L608.6 400.8 L608.9 399.9 L608.7 399.1 L609.0 398.2 L608.8 397.3 L609.2 396.4 L608.9 395.5 L609.3 394.7 L609.1 393.8 L609.4 392.9 L609.2 392.0 L609.5 391.2 L609.3 390.3 L609.7 389.4 L609.4 388.5 L609.8 387.7 L609.5 386.8 L609.9 385.9 L609.6 385.0 L610.0 384.1 L609.7 383.3 L610.2 382.4 L609.8 381.5 L610.3 380.6 L609.9 379.8 L610.4 378.9 L610.1 378.0 L610.5 377.1 L610.2 376.3 L610.7 375.4 L610.3 374.5 L610.8 373.6 L610.5 372.7 L610.9 371.9 L610.6 371.0 L611.0 370.1 L610.7 369.2 L611.2 368.4 L610.9 367.5 L611.3 366.6 L611.0 365.7 L611.4 364.9 L611.2 364.0 L611.6 363.1 L611.3 362.2 L611.7 361.3 L611.4 360.5 L611.9 359.6 L611.6 358.7 L612.1 357.8 L611.7 357.0 L612.2 356.1 L612.0 355.2 L612.4 354.3 L612.3 353.5 L612.5 352.6 L612.6 351.7 L612.7 350.8 L612.8 350.0 L612.9 349.1 L613.0 348.2 L613.1 347.3 L613.3 346.4 L613.4 345.6 L613.5 344.7 L613.6 343.8 L613.7 342.9 L613.8 342.1 L613.9 341.2 L614.0 340.3 L614.0 339.4 L614.1 338.6 L614.1 337.7 L614.2 336.8 L614.2 335.9 L614.2 335.0 L614.2 334.2 L614.3 333.3 L614.3 332.4 L614.3 331.5 L614.3 330.7 L614.3 329.8 L614.4 328.9 L614.4 328.0 L614.4 327.2 L614.4 326.3 L614.5 325.4 L614.5 324.5 L614.5 323.6 L614.5 322.8 L614.5 321.9 L614.6 321.0 L614.6 320.1 L614.6 319.3 L614.6 318.4 L614.6 317.5 L614.7 316.6 L614.7 315.8 L614.7 314.9 L614.7 314.0 L614.8 313.1 L614.8 312.3 L614.8 311.4 L614.8 310.5 L614.8 309.6 L614.9 308.7 L614.9 307.9 L614.9 307.0 L614.9 306.1 L615.0 305.2 L615.0 304.4 L615.0 303.5 L615.0 302.6 L615.0 301.7 L615.1 300.9 L615.1 300.0 L615.1 299.1 L614.9 286.6 L615.4 267.8 L616.1 289.1 L616.6 299.1 L616.6 295.5 L616.6 342.8 L617.1 347.8 L617.9 315.5 L618.6 376.6 L620.4 318.0 L620.4 355.3 L622.1 314.3 L622.1 347.8 L623.1 306.0 L624.1 325.5 L624.1 370.4 L624.6 345.6 L626.1 387.9 L626.6 350.6 L626.6 397.9 L625.5 371.7 L626.4 372.6 L625.6 373.5 L626.5 374.4 L625.7 375.3 L627.2 376.1 L625.7 377.0 L627.8 377.9 L625.8 378.8 L628.3 379.6 L625.9 380.5 L628.3 381.4 L626.0 382.3 L628.3 383.1 L626.1 384.0 L628.3 384.9 L626.2 385.8 L628.3 386.7 L626.2 387.5 L628.4 388.4 L626.3 389.3 L628.4 390.2 L626.4 391.0 L628.4 391.9 L626.5 392.8 L628.4 393.7 L626.6 394.5 L628.4 395.4 L626.7 396.3 L628.5 397.2 L626.7 398.0 L628.5 398.9 L626.8 399.8 L628.5 400.7 L626.9 401.6 L628.5 402.4 L627.0 403.3 L628.5 404.2 L627.1 405.1 L628.6 405.9 L627.1 406.8 L628.6 407.7 L627.2 408.6 L628.6 409.4 L627.3 410.3 L628.6 411.2 L627.4 412.1 L628.7 413.0 L627.5 413.8 L628.7 414.7 L627.6 415.6 L628.7 416.5 L627.7 417.3 L628.7 418.2 L627.8 419.1 L628.7 420.0 L627.9 420.8 L628.8 421.7 L628.0 422.6 L628.8 423.5 L628.1 424.4 L628.8 425.2 L628.2 426.1 L628.8 427.0 L628.3 427.9 L628.8 428.7 L628.4 429.6 L628.9 430.5 L628.5 431.4 L628.9 432.2 L628.7 433.1 L628.9 434.0 L628.8 434.9 L628.9 435.7 L628.9 436.6 L628.9 437.5 L629.0 438.4 L629.0 439.3 L629.0 440.1 L629.1 441.0 L629.1 441.9 L629.1 442.8 L627.9 443.0 L629.1 463.0 L629.6 444.4 L629.6 466.7 L630.4 486.7 L631.6 469.4 L632.9 499.2 L634.1 494.5 L634.1 531.8 L636.1 497.0 L637.9 503.2 L637.9 533.1 L639.2 531.8 L639.7 507.0 L640.4 541.8 L641.2 568.1 L642.2 512.0 L642.2 541.8 L642.9 530.6 L643.7 494.5 L644.2 509.3 L645.4 469.4 L646.2 506.8 L647.9 459.4 L647.9 483.0 L649.6 451.1 L650.4 446.9 L650.4 475.4 L651.3 453.5 L652.2 459.4 L652.9 484.2 L653.7 469.4 L655.4 466.9 L655.4 491.7 L656.4 468.2 L657.2 469.4 L657.2 498.0 L658.7 489.2 L659.2 446.9 L660.4 481.7 L661.2 464.4 L662.2 490.5 L662.9 459.4 L663.7 481.7 L664.2 444.4 L664.7 466.7 L666.2 451.6 L668.0 431.9 L668.0 441.6 L666.6 442.5 L666.6 441.6 L666.7 440.8 L666.7 439.9 L666.8 439.0 L666.8 438.1 L666.9 437.3 L666.9 436.4 L666.9 435.5 L667.0 434.6 L667.0 433.7 L667.1 432.9 L667.1 432.0 L667.2 431.1 L667.2 430.2 L667.2 429.4 L667.3 428.5 L667.3 427.6 L667.4 426.7 L667.4 425.9 L667.4 425.0 L667.5 424.1 L667.5 423.2 L667.6 422.3 L667.6 421.5 L667.7 420.6 L667.7 419.7 L667.8 418.8 L667.8 418.0 L667.9 417.1 L667.8 416.2 L668.0 415.3 L667.9 414.5 L668.1 413.6 L668.0 412.7 L668.2 411.8 L668.0 410.9 L668.3 410.1 L668.1 409.2 L668.4 408.3 L668.3 407.4 L668.5 406.6 L668.5 405.7 L668.7 404.8 L668.7 403.9 L668.8 403.1 L668.9 402.2 L669.0 401.3 L669.1 400.4 L669.2 399.6 L669.3 398.7 L669.3 397.8 L669.4 396.9 L669.5 396.0 L669.6 395.2 L669.7 394.3 L669.8 393.4 L669.9 392.5 L669.9 391.7 L670.0 390.8 L670.1 389.9 L670.2 389.0 L670.3 388.2 L670.3 387.3 L670.4 386.4 L670.4 385.5 L670.5 384.6 L670.5 383.8 L670.6 382.9 L670.7 382.0 L670.7 381.1 L670.8 380.3 L670.8 379.4 L670.9 378.5 L671.0 377.6 L671.0 376.8 L671.1 375.9 L671.1 375.0 L671.2 374.1 L671.2 373.2 L671.3 372.4 L671.4 371.5 L671.4 370.6 L671.5 369.7 L671.6 368.9 L671.6 368.0 L671.7 367.1 L671.7 366.2 L671.8 365.4 L671.9 364.5 L671.9 363.6 L672.0 362.7 L672.1 361.9 L672.1 361.0 L672.2 360.1 L672.2 359.2 L672.3 358.3 L672.4 357.5 L672.4 356.6 L672.5 355.7 L672.6 354.8 L672.6 354.0 L672.7 353.1 L672.7 352.2 L672.8 351.3 L672.9 350.5 L672.9 349.6 L673.0 348.7 L673.0 347.8 L673.1 346.9 L673.1 346.1 L673.2 345.2 L673.2 344.3 L673.3 343.4 L673.3 342.6 L673.4 341.7 L673.4 340.8 L673.4 339.9 L673.5 339.1 L673.5 338.2 L673.5 337.3 L673.5 336.4 L673.6 335.5 L673.6 334.7 L673.6 333.8 L673.7 332.9 L673.7 332.0 L673.7 331.2 L673.8 330.3 L673.8 329.4 L673.8 328.5 L673.8 327.7 L673.9 326.8 L673.9 325.9 L673.9 325.0 L674.0 324.2 L672.7 325.5 L672.7 327.8 L673.2 313.0 L674.2 300.5 L674.7 322.8 L675.5 286.7 L676.7 300.5 L676.7 325.3 L678.7 303.0 L678.7 327.8 L679.6 300.8 L680.5 322.8 L680.7 298.0 L681.7 352.8 L682.2 315.5 L683.7 335.5 L683.7 367.9 L682.5 334.2 L682.5 335.0 L682.6 335.9 L682.6 336.8 L682.7 337.7 L682.7 338.6 L682.7 339.4 L682.9 340.3 L682.8 341.2 L683.1 342.1 L682.8 342.9 L683.2 343.8 L682.9 344.7 L683.4 345.6 L682.9 346.4 L683.5 347.3 L683.0 348.2 L683.7 349.1 L683.0 350.0 L683.8 350.8 L683.1 351.7 L684.0 352.6 L683.1 353.5 L684.2 354.3 L683.2 355.2 L685.4 356.1 L683.4 357.0 L685.9 357.8 L683.6 358.7 L686.0 359.6 L683.8 360.5 L686.0 361.3 L684.0 362.2 L686.1 363.1 L684.2 364.0 L686.1 364.9 L684.4 365.7 L686.2 366.6 L684.6 367.5 L686.3 368.4 L684.8 369.2 L686.3 370.1 L685.0 371.0 L686.4 371.9 L685.2 372.7 L686.4 373.6 L685.4 374.5 L686.5 375.4 L685.6 376.3 L686.5 377.1 L685.8 378.0 L686.6 378.9 L686.1 379.8 L686.8 380.6 L686.4 381.5 L687.1 382.4 L686.7 383.3 L687.3 384.1 L686.9 385.0 L687.6 385.9 L687.2 386.8 L687.8 387.7 L687.5 388.5 L688.1 389.4 L687.7 390.3 L688.3 391.2 L687.9 392.0 L688.6 392.9 L688.0 393.8 L688.8 394.7 L688.2 395.5 L689.1 396.4 L688.3 397.3 L689.2 398.2 L688.5 399.1 L689.4 399.9 L688.6 400.8 L689.5 401.7 L688.8 402.6 L689.7 403.4 L688.9 404.3 L689.8 405.2 L689.1 406.1 L690.0 406.9 L689.2 407.8 L690.1 408.7 L689.4 409.6 L690.3 410.4 L689.6 411.3 L690.4 412.2 L689.8 413.1 L690.6 414.0 L690.0 414.8 L690.8 415.7 L690.2 416.6 L690.9 417.5 L690.4 418.3 L691.1 419.2 L690.6 420.1 L691.3 421.0 L690.8 421.8 L691.5 422.7 L691.0 423.6 L691.6 424.5 L691.2 425.4 L691.8 426.2 L691.4 427.1 L691.9 428.0 L691.5 428.9 L692.0 429.7 L691.6 430.6 L692.1 431.5 L691.8 432.4 L692.2 433.2 L691.9 434.1 L692.3 435.0 L692.1 435.9 L692.5 436.8 L692.2 437.6 L692.6 438.5 L692.3 439.4 L692.7 440.3 L692.5 441.1 L692.8 442.0 L692.6 442.9 L691.3 425.7 L691.3 441.5 L692.3 415.7 L692.3 433.0 L693.1 419.7 L694.3 425.7 L694.3 440.0 L695.2 419.9 L696.3 413.2 L696.8 435.5 L698.0 410.7 L699.3 433.0 L699.8 415.7 L701.3 440.0 L702.3 405.2 L703.8 420.7 L704.3 438.0 L705.5 425.7 L705.5 444.3 L706.8 405.7 L706.8 446.5 L708.0 423.0 L708.8 383.1 L709.3 407.9 L710.5 385.6 L711.8 413.0 L713.0 388.2 L713.8 410.4 L715.6 390.7 L715.8 423.0 L716.8 400.7 L717.3 433.0 L718.1 420.7 L719.3 440.0 L719.8 423.2 L721.8 420.7 L721.8 441.0 L723.8 409.4 L724.3 440.0 L725.6 415.7 L726.8 440.0 L727.3 413.2 L728.4 429.2 L729.3 406.9 L729.3 423.0 L730.8 441.5 L731.3 405.7 L731.3 459.5 L731.3 460.9 L731.8 404.3 L732.3 326.7 L734.3 324.2 L734.3 325.5 L734.3 397.9 L734.8 358.1 L734.8 397.9 L736.8 360.6 L736.8 402.9 L738.3 368.1 L738.3 397.9 L739.4 378.1 L739.9 430.5 L740.9 393.2 L741.9 423.0 L742.4 394.4 L743.4 441.5 L743.9 393.2 L744.9 413.2 L745.9 444.3 L745.9 448.0 L745.2 443.0 L748.1 443.9 L745.3 444.8 L749.2 445.6 L745.3 446.5 L749.3 447.4 L745.4 448.3 L749.3 449.1 L745.5 450.0 L749.3 450.9 L745.5 451.8 L749.4 452.6 L745.6 453.5 L749.4 454.4 L745.6 455.3 L749.4 456.2 L745.7 457.0 L749.4 457.9 L745.7 458.8 L749.5 459.7 L745.8 460.5 L749.5 461.4 L745.8 462.3 L749.5 463.2 L745.9 464.0 L749.6 464.9 L745.9 465.8 L749.6 466.7 L746.0 467.5 L749.6 468.4 L746.0 469.3 L749.6 470.2 L746.1 471.1 L749.7 471.9 L746.2 472.8 L749.7 473.7 L746.2 474.6 L749.7 475.4 L746.3 476.3 L749.7 477.2 L746.6 478.1 L749.8 478.9 L746.8 479.8 L749.8 480.7 L747.0 481.6 L749.8 482.5 L747.2 483.3 L749.9 484.2 L747.4 485.1 L749.9 486.0 L747.6 486.8 L749.9 487.7 L747.9 488.6 L749.9 489.5 L748.1 490.3 L750.0 491.2 L748.3 492.1 L750.0 493.0 L748.5 493.9 L750.1 494.7 L748.7 495.6 L750.2 496.5 L749.0 497.4 L750.3 498.2 L749.3 499.1 L750.5 500.0 L749.6 500.9 L750.6 501.7 L749.9 502.6 L750.7 503.5 L750.1 504.4 L750.8 505.2 L750.4 506.1 L750.9 507.0 L750.7 507.9 L749.9 543.2 L750.6 585.8 L751.4 543.2 L751.9 519.5 L751.9 541.8 L753.9 541.8 L754.9 507.0 L756.4 554.3 L756.9 524.5 L758.1 546.8 L758.9 516.5 L759.9 541.8 L760.6 527.0 L761.9 556.9 L763.1 507.0 L763.1 541.8 L763.9 494.5 L763.9 524.3 L763.9 494.5 L763.9 521.8 L764.4 476.9 L765.2 498.0 L765.9 475.7 L766.4 498.0 L767.4 459.4 L767.4 474.2 L768.4 441.4 L769.4 470.4 L769.9 444.4 L770.7 439.4 L771.4 474.2 L771.9 451.9 L772.9 481.5 L773.9 464.4 L773.9 486.2 L775.7 454.4 L775.7 471.7 L776.9 444.4 L776.9 451.6 L778.2 436.9 L778.2 441.6 L776.4 444.3 L776.4 448.0 L776.9 400.7 L778.4 407.9 L778.9 375.6 L780.7 378.1 L780.7 410.4 L781.9 380.6 L783.2 407.9 L784.4 373.1 L785.7 390.7 L785.7 428.0 L786.9 410.7 L787.4 407.9 L788.2 400.7 L789.5 397.9 L790.7 392.4 L791.5 387.9 L792.0 363.1 L792.5 338.1 L793.2 362.9 L793.5 322.5 L795.0 330.5 L795.0 360.3 L796.5 345.6 L797.0 372.9 L798.2 368.1 L798.5 396.7 L800.7 351.8 L800.7 395.4 L802.0 355.6 L802.5 399.2 L803.7 338.1 L804.0 377.9 L805.0 343.1 L806.0 385.4 L806.5 325.5 L807.5 295.5 L807.5 357.8 L809.0 282.9 L809.5 347.8 L810.7 274.2 L812.0 282.9 L812.0 357.8 L813.5 275.4 L813.5 342.8 L815.0 250.4 L815.0 310.2 L816.0 240.4 L816.0 297.7 L815.4 258.4 L815.4 297.7 L815.7 255.4 L816.1 297.7 L816.4 218.4 L817.5 303.2 L818.0 219.1 L818.6 234.1 L818.6 307.7 L819.5 236.3 L820.1 232.3 L820.6 290.2 L821.5 230.8 L821.5 281.4 L822.4 270.0 L823.1 236.0 L823.6 205.0 L823.7 178.0 L824.6 186.0 L824.2 262.0 L825.2 206.0 L825.4 265.0 L825.9 216.0 L826.3 258.0 L826.4 235.0 L827.0 262.0 L828.1 254.0 L828.6 299.1 L829.7 314.1 L829.2 334.2 L831.2 336.7 L830.7 389.3 L832.2 389.3 L832.9 419.3 L834.7 442.9 L830.4 439.4 L830.4 441.6 L832.2 456.7 L833.7 444.4 L833.7 469.2 L834.2 515.5 L834.9 491.7 L835.4 451.9 L837.2 488.0 L837.9 444.4 L839.2 459.4 L839.2 504.2 L840.7 541.8 L841.2 471.9 L842.2 507.0 L842.2 576.9 L843.2 532.1 L843.2 583.2 L843.2 584.5 L844.2 579.5 L844.7 578.9 L844.7 578.0 L844.7 577.1 L844.8 576.3 L844.8 575.4 L844.8 574.5 L844.8 573.6 L844.8 572.8 L844.9 571.9 L844.9 571.0 L844.9 570.1 L844.9 569.3 L845.0 568.4 L845.0 567.5 L845.0 566.6 L845.0 565.7 L845.0 564.9 L845.1 564.0 L845.1 563.1 L845.1 562.2 L845.1 561.4 L845.1 560.5 L845.2 559.6 L845.2 558.7 L845.2 557.9 L845.2 557.0 L845.2 556.1 L845.3 555.2 L845.3 554.3 L845.3 553.5 L845.3 552.6 L845.4 551.7 L845.4 550.8 L845.4 550.0 L845.4 549.1 L845.4 548.2 L845.5 547.3 L845.5 546.5 L845.5 545.6 L845.5 544.7 L845.5 543.8 L845.6 542.9 L845.6 542.1 L845.6 541.2 L845.7 540.3 L845.7 539.4 L845.7 538.6 L845.7 537.7 L845.8 536.8 L845.8 535.9 L845.8 535.1 L845.9 534.2 L845.9 533.3 L845.9 532.4 L845.9 531.6 L846.0 530.7 L846.0 529.8 L846.0 528.9 L846.1 528.0 L846.1 527.2 L846.1 526.3 L846.2 525.4 L846.2 524.5 L846.2 523.7 L846.2 522.8 L846.3 521.9 L846.3 521.0 L846.3 520.2 L846.4 519.3 L846.4 518.4 L846.4 517.5 L846.4 516.6 L846.5 515.8 L846.5 514.9 L846.5 514.0 L846.5 513.1 L846.6 512.3 L846.6 511.4 L846.6 510.5 L846.6 509.6 L846.6 508.8 L846.7 507.9 L846.7 507.0 L846.7 506.1 L846.7 505.2 L846.8 504.4 L846.8 503.5 L846.8 502.6 L846.9 501.7 L846.9 500.9 L846.9 500.0 L846.9 499.1 L847.0 498.2 L847.0 497.4 L847.0 496.5 L847.1 495.6 L847.1 494.7 L847.1 493.9 L847.1 493.0 L847.2 492.1 L847.2 491.2 L847.2 490.3 L847.3 489.5 L847.3 488.6 L847.3 487.7 L847.4 486.8 L847.4 486.0 L847.4 485.1 L847.4 484.2 L847.5 483.3 L847.5 482.5 L847.5 481.6 L847.6 480.7 L847.6 479.8 L847.6 478.9 L847.7 478.1 L847.7 477.2 L847.7 476.3 L847.8 475.4 L847.8 474.6 L847.8 473.7 L847.9 472.8 L847.9 471.9 L847.9 471.1 L848.0 470.2 L848.0 469.3 L848.0 468.4 L848.1 467.5 L848.1 466.7 L848.2 465.8 L848.2 464.9 L848.3 464.0 L848.3 463.2 L848.4 462.3 L848.4 461.4 L848.4 460.5 L848.5 459.7 L848.5 458.8 L848.6 457.9 L848.6 457.0 L848.7 456.2 L848.7 455.3 L848.8 454.4 L848.8 453.5 L848.9 452.6 L849.0 451.8 L849.0 450.9 L849.1 450.0 L849.1 449.1 L849.2 448.3 L849.3 447.4 L849.3 446.5 L849.4 445.6 L849.4 444.8 L849.5 443.9 L849.6 443.0 L848.2 444.3 L848.2 448.0 L848.7 423.2 L850.4 441.5 L851.2 420.7 L851.7 455.3 L852.2 413.2 L853.2 441.5 L853.7 400.7 L854.2 423.0 L854.7 381.9 L855.5 423.0 L855.7 400.7 L856.7 428.0 L857.2 400.7 L858.0 428.0 L858.2 380.6 L859.2 363.1 L859.2 397.9 L860.2 345.6 L860.5 367.9 L861.0 335.5 L861.7 331.8 L862.2 365.4 L863.2 345.6 L864.2 377.9 L864.7 345.6 L865.5 407.9 L865.7 368.1 L866.7 386.9 L867.2 423.0 L868.0 400.7 L868.2 441.5 L869.2 413.2 L869.2 463.6 L870.2 441.5 L870.5 390.7 L871.2 374.4 L871.7 423.0 L872.2 390.7 L873.2 433.0 L874.2 405.7 L874.7 441.5 L876.2 430.7 L876.2 462.8 L878.0 444.3 L878.0 459.0 L879.3 438.3 L879.3 441.5 L880.5 425.7 L880.8 441.5 L881.8 423.2 L882.3 438.0 L883.0 420.7 L883.8 410.7 L883.8 441.5 L883.8 424.4 L884.5 399.3 L885.3 409.3 L885.8 374.3 L886.5 389.3 L886.8 356.7 L887.5 366.7 L887.8 342.9 L888.5 369.2 L888.8 354.2 L889.5 389.3 L889.8 379.3 L890.8 409.3 L891.3 399.3 L892.0 429.4 L892.5 424.4 L893.3 442.9 L890.5 441.7 L890.5 441.7 L891.8 469.2 L892.3 444.4 L893.8 454.4 L894.3 471.7 L895.5 444.4 L896.3 493.0 L897.3 471.7 L898.0 444.4 L899.3 466.7 L900.5 441.7 L900.5 441.7 L899.3 444.3 L899.3 448.0 L900.5 420.7 L900.5 441.5 L901.8 393.2 L902.3 423.0 L903.8 390.7 L904.3 385.6 L904.3 410.4 L905.6 387.9 L905.8 358.1 L907.3 355.6 L907.3 387.9 L908.8 350.6 L909.3 377.9 L910.3 348.1 L911.3 382.9 L911.6 336.8 L912.8 350.6 L912.8 387.9 L914.3 350.6 L914.3 387.9 L915.6 355.6 L915.6 397.9 L915.8 384.3 L916.3 442.9 L916.1 443.0 L917.8 468.1 L919.6 483.1 L920.6 503.1 L922.3 523.2 L923.3 548.2 L924.3 573.3 L924.9 572.6 L924.9 571.8 L924.9 570.9 L925.0 570.0 L925.0 569.1 L925.0 568.3 L925.0 567.4 L925.1 566.5 L925.1 565.6 L925.1 564.7 L925.2 563.9 L925.2 563.0 L925.2 562.1 L925.2 561.2 L925.3 560.4 L925.3 559.5 L925.3 558.6 L925.4 557.7 L925.4 556.9 L925.4 556.0 L925.4 555.1 L925.5 554.2 L925.5 553.3 L925.5 552.5 L925.6 551.6 L925.6 550.7 L925.6 549.8 L925.7 549.0 L925.7 548.1 L925.7 547.2 L925.7 546.3 L925.8 545.5 L925.8 544.6 L925.8 543.7 L925.9 542.8 L925.9 541.9 L925.9 541.1 L926.0 540.2 L926.0 539.3 L926.0 538.4 L926.0 537.6 L926.1 536.7 L926.1 535.8 L926.1 534.9 L926.2 534.1 L926.2 533.2 L926.2 532.3 L926.3 531.4 L926.3 530.6 L926.3 529.7 L926.4 528.8 L926.4 527.9 L926.4 527.0 L926.5 526.2 L926.5 525.3 L926.5 524.4 L926.6 523.5 L926.6 522.7 L926.6 521.8 L926.7 520.9 L926.7 520.0 L926.7 519.2 L926.8 518.3 L926.8 517.4 L926.8 516.5 L926.8 515.6 L927.3 528.2 L927.8 515.1 L928.8 514.4 L929.4 530.7 L929.9 543.2 L930.9 539.4 L931.4 525.7 L932.1 515.6 L932.9 505.6 L933.6 496.9 L933.6 473.1 L933.4 450.8" stroke="#FF0000" stroke-width="3.4" fill="none" stroke-linejoin="round" stroke-linecap="round"/>
<path d="M83.8 575.4H925.6" stroke="#00AEEF" stroke-width="3.2" fill="none"/>
<ellipse cx="932.95" cy="450.95" rx="11.5" ry="12.4" stroke="#000" stroke-width="2.9" fill="none"/>
<text x="50.3" y="67.2" text-anchor="end" font-family="Liberation Sans, sans-serif" font-size="20.8" fill="#000">22%</text>
<text x="50.3" y="100.9" text-anchor="end" font-family="Liberation Sans, sans-serif" font-size="20.8" fill="#000">20%</text>
<text x="50.3" y="134.5" text-anchor="end" font-family="Liberation Sans, sans-serif" font-size="20.8" fill="#000">18%</text>
<text x="50.3" y="168.1" text-anchor="end" font-family="Liberation Sans, sans-serif" font-size="20.8" fill="#000">16%</text>
<text x="50.3" y="201.7" text-anchor="end" font-family="Liberation Sans, sans-serif" font-size="20.8" fill="#000">14%</text>
<text x="50.3" y="235.3" text-anchor="end" font-family="Liberation Sans, sans-serif" font-size="20.8" fill="#000">12%</text>
<text x="50.3" y="268.9" text-anchor="end" font-family="Liberation Sans, sans-serif" font-size="20.8" fill="#000">10%</text>
<text x="50.3" y="302.5" text-anchor="end" font-family="Liberation Sans, sans-serif" font-size="20.8" fill="#000">8%</text>
<text x="50.3" y="336.2" text-anchor="end" font-family="Liberation Sans, sans-serif" font-size="20.8" fill="#000">6%</text>
<text x="50.3" y="369.8" text-anchor="end" font-family="Liberation Sans, sans-serif" font-size="20.8" fill="#000">4%</text>
<text x="50.3" y="403.4" text-anchor="end" font-family="Liberation Sans, sans-serif" font-size="20.8" fill="#000">2%</text>
<text x="50.3" y="437.0" text-anchor="end" font-family="Liberation Sans, sans-serif" font-size="20.8" fill="#000">0%</text>
<text x="50.3" y="470.6" text-anchor="end" font-family="Liberation Sans, sans-serif" font-size="20.8" fill="#000">-2%</text>
<text x="50.3" y="504.2" text-anchor="end" font-family="Liberation Sans, sans-serif" font-size="20.8" fill="#000">-4%</text>
<text x="50.3" y="537.8" text-anchor="end" font-family="Liberation Sans, sans-serif" font-size="20.8" fill="#000">-6%</text>
<text x="50.3" y="571.5" text-anchor="end" font-family="Liberation Sans, sans-serif" font-size="20.8" fill="#000">-8%</text>
<text x="50.3" y="605.1" text-anchor="end" font-family="Liberation Sans, sans-serif" font-size="20.8" fill="#000">-10%</text>
<text x="50.3" y="638.7" text-anchor="end" font-family="Liberation Sans, sans-serif" font-size="20.8" fill="#000">-12%</text>
<text x="50.3" y="672.3" text-anchor="end" font-family="Liberation Sans, sans-serif" font-size="20.8" fill="#000">-14%</text>
<text transform="translate(79.8 696.5) rotate(-45)" text-anchor="end" font-family="Liberation Sans, sans-serif" font-size="22" textLength="50.5" lengthAdjust="spacingAndGlyphs" fill="#000">2002</text>
<text transform="translate(116.0 696.5) rotate(-45)" text-anchor="end" font-family="Liberation Sans, sans-serif" font-size="22" textLength="50.5" lengthAdjust="spacingAndGlyphs" fill="#000">2003</text>
<text transform="translate(152.1 696.5) rotate(-45)" text-anchor="end" font-family="Liberation Sans, sans-serif" font-size="22" textLength="50.5" lengthAdjust="spacingAndGlyphs" fill="#000">2004</text>
<text transform="translate(188.3 696.5) rotate(-45)" text-anchor="end" font-family="Liberation Sans, sans-serif" font-size="22" textLength="50.5" lengthAdjust="spacingAndGlyphs" fill="#000">2005</text>
<text transform="translate(224.5 696.5) rotate(-45)" text-anchor="end" font-family="Liberation Sans, sans-serif" font-size="22" textLength="50.5" lengthAdjust="spacingAndGlyphs" fill="#000">2006</text>
<text transform="translate(260.7 696.5) rotate(-45)" text-anchor="end" font-family="Liberation Sans, sans-serif" font-size="22" textLength="50.5" lengthAdjust="spacingAndGlyphs" fill="#000">2007</text>
<text transform="translate(296.8 696.5) rotate(-45)" text-anchor="end" font-family="Liberation Sans, sans-serif" font-size="22" textLength="50.5" lengthAdjust="spacingAndGlyphs" fill="#000">2008</text>
<text transform="translate(333.0 696.5) rotate(-45)" text-anchor="end" font-family="Liberation Sans, sans-serif" font-size="22" textLength="50.5" lengthAdjust="spacingAndGlyphs" fill="#000">2009</text>
<text transform="translate(369.2 696.5) rotate(-45)" text-anchor="end" font-family="Liberation Sans, sans-serif" font-size="22" textLength="50.5" lengthAdjust="spacingAndGlyphs" fill="#000">2010</text>
<text transform="translate(405.4 696.5) rotate(-45)" text-anchor="end" font-family="Liberation Sans, sans-serif" font-size="22" textLength="50.5" lengthAdjust="spacingAndGlyphs" fill="#000">2011</text>
<text transform="translate(441.5 696.5) rotate(-45)" text-anchor="end" font-family="Liberation Sans, sans-serif" font-size="22" textLength="50.5" lengthAdjust="spacingAndGlyphs" fill="#000">2012</text>
<text transform="translate(477.7 696.5) rotate(-45)" text-anchor="end" font-family="Liberation Sans, sans-serif" font-size="22" textLength="50.5" lengthAdjust="spacingAndGlyphs" fill="#000">2013</text>
<text transform="translate(513.9 696.5) rotate(-45)" text-anchor="end" font-family="Liberation Sans, sans-serif" font-size="22" textLength="50.5" lengthAdjust="spacingAndGlyphs" fill="#000">2014</text>
<text transform="translate(550.1 696.5) rotate(-45)" text-anchor="end" font-family="Liberation Sans, sans-serif" font-size="22" textLength="50.5" lengthAdjust="spacingAndGlyphs" fill="#000">2015</text>
<text transform="translate(586.2 696.5) rotate(-45)" text-anchor="end" font-family="Liberation Sans, sans-serif" font-size="22" textLength="50.5" lengthAdjust="spacingAndGlyphs" fill="#000">2016</text>
<text transform="translate(622.4 696.5) rotate(-45)" text-anchor="end" font-family="Liberation Sans, sans-serif" font-size="22" textLength="50.5" lengthAdjust="spacingAndGlyphs" fill="#000">2017</text>
<text transform="translate(658.6 696.5) rotate(-45)" text-anchor="end" font-family="Liberation Sans, sans-serif" font-size="22" textLength="50.5" lengthAdjust="spacingAndGlyphs" fill="#000">2018</text>
<text transform="translate(694.8 696.5) rotate(-45)" text-anchor="end" font-family="Liberation Sans, sans-serif" font-size="22" textLength="50.5" lengthAdjust="spacingAndGlyphs" fill="#000">2019</text>
<text transform="translate(730.9 696.5) rotate(-45)" text-anchor="end" font-family="Liberation Sans, sans-serif" font-size="22" textLength="50.5" lengthAdjust="spacingAndGlyphs" fill="#000">2020</text>
<text transform="translate(767.1 696.5) rotate(-45)" text-anchor="end" font-family="Liberation Sans, sans-serif" font-size="22" textLength="50.5" lengthAdjust="spacingAndGlyphs" fill="#000">2021</text>
<text transform="translate(803.3 696.5) rotate(-45)" text-anchor="end" font-family="Liberation Sans, sans-serif" font-size="22" textLength="50.5" lengthAdjust="spacingAndGlyphs" fill="#000">2022</text>
<text transform="translate(839.5 696.5) rotate(-45)" text-anchor="end" font-family="Liberation Sans, sans-serif" font-size="22" textLength="50.5" lengthAdjust="spacingAndGlyphs" fill="#000">2023</text>
<text transform="translate(875.6 696.5) rotate(-45)" text-anchor="end" font-family="Liberation Sans, sans-serif" font-size="22" textLength="50.5" lengthAdjust="spacingAndGlyphs" fill="#000">2024</text>
<text transform="translate(911.8 696.5) rotate(-45)" text-anchor="end" font-family="Liberation Sans, sans-serif" font-size="22" textLength="50.5" lengthAdjust="spacingAndGlyphs" fill="#000">2025</text>
<text x="28.9" y="39.7" font-family="Liberation Sans, sans-serif" font-size="27" font-weight="bold" textLength="51.7" lengthAdjust="spacingAndGlyphs" fill="#000">WSJ</text>
<text x="88.6" y="39.7" font-family="Liberation Sans, sans-serif" font-size="27" font-weight="bold" textLength="86.7" lengthAdjust="spacingAndGlyphs" fill="#000">Dollar</text>
<text x="185.2" y="39.7" font-family="Liberation Sans, sans-serif" font-size="27" font-weight="bold" textLength="73.6" lengthAdjust="spacingAndGlyphs" fill="#000">Index</text>
<text x="268.7" y="39.7" font-family="Liberation Sans, sans-serif" font-size="27" font-weight="bold" textLength="97.4" lengthAdjust="spacingAndGlyphs" fill="#000">[Buxx],</text>
<text x="372.9" y="39.7" font-family="Liberation Sans, sans-serif" font-size="27" font-weight="bold" textLength="25.8" lengthAdjust="spacingAndGlyphs" fill="#FF0000">%</text>
<text x="404.9" y="39.7" font-family="Liberation Sans, sans-serif" font-size="27" font-weight="bold" textLength="99.4" lengthAdjust="spacingAndGlyphs" fill="#FF0000">Change</text>
<text x="513.0" y="39.7" font-family="Liberation Sans, sans-serif" font-size="27" font-weight="bold" textLength="66.9" lengthAdjust="spacingAndGlyphs" fill="#FF0000">from</text>
<text x="588.6" y="39.7" font-family="Liberation Sans, sans-serif" font-size="27" font-weight="bold" textLength="17.1" lengthAdjust="spacingAndGlyphs" fill="#FF0000">6</text>
<text x="614.8" y="39.7" font-family="Liberation Sans, sans-serif" font-size="27" font-weight="bold" textLength="103.0" lengthAdjust="spacingAndGlyphs" fill="#FF0000">Months</text>
<text x="727.0" y="39.7" font-family="Liberation Sans, sans-serif" font-size="27" font-weight="bold" textLength="52.9" lengthAdjust="spacingAndGlyphs" fill="#FF0000">Ago</text>
<text x="20.3" y="763.4" font-family="Liberation Sans, sans-serif" font-size="20" font-weight="bold" textLength="116.2" lengthAdjust="spacingAndGlyphs" fill="#000">Source: WSJ</text>
<text x="747.2" y="763.4" font-family="Liberation Sans, sans-serif" font-size="20" font-weight="bold" textLength="183.6" lengthAdjust="spacingAndGlyphs" fill="#000">WOLFSTREET.com</text>
</svg></body></html>
